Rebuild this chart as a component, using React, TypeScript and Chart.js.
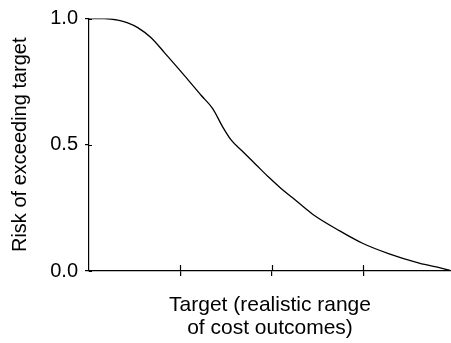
import React, { useEffect, useRef } from "react";
import { Chart, registerables } from "chart.js";

Chart.register(...registerables);

// Target values (arbitrary units along the realistic range) and risk of exceeding them
const targetX = [0, 0.169, 0.315, 0.424, 0.533, 0.68, 0.825, 1.044, 1.226, 1.353, 1.462, 1.554, 1.681, 1.827, 1.973, 2.101, 2.227, 2.446, 2.738, 2.992, 3.284, 3.612, 3.94, 3.96];
const riskY = [1.0, 1.0, 0.994, 0.983, 0.964, 0.924, 0.865, 0.774, 0.696, 0.643, 0.571, 0.519, 0.473, 0.421, 0.369, 0.327, 0.29, 0.225, 0.16, 0.11, 0.068, 0.031, 0.003, 0];

const xTickValues = [1, 2, 3];
const yTickValues = [0, 0.5, 1];
const yTickLabels = ["0.0", "0.5", "1.0"];
const xTitle = ["Target (realistic range", "of cost outcomes)"];
const yTitle = "Risk of exceeding target";
const X_MAX = 3.96;

const FONT = "'Liberation Sans', Arial, Helvetica, sans-serif";

const innerTicks = {
  id: "innerTicks",
  afterDraw(chart: any) {
    const { ctx, chartArea, scales } = chart;
    ctx.save();
    ctx.strokeStyle = "#000";
    ctx.lineWidth = 1.2;
    ctx.beginPath();
    xTickValues.forEach((v) => {
      const px = Math.round(scales.x.getPixelForValue(v)) + 0.5;
      ctx.moveTo(px, chartArea.bottom);
      ctx.lineTo(px, chartArea.bottom - 6);
    });
    yTickValues.forEach((v) => {
      const py = Math.round(scales.y.getPixelForValue(v)) + 0.5;
      ctx.moveTo(chartArea.left, py);
      ctx.lineTo(chartArea.left + 3, py);
    });
    ctx.stroke();
    ctx.restore();
  },
};

export default function App() {
  const ref = useRef<HTMLCanvasElement>(null);

  useEffect(() => {
    if (!ref.current) return;
    const chart = new Chart(ref.current, {
      type: "line",
      data: {
        datasets: [
          {
            data: targetX.map((x, i) => ({ x, y: riskY[i] })),
            borderColor: "#000",
            borderWidth: 1.3,
            pointRadius: 0,
            fill: false,
            cubicInterpolationMode: "monotone",
          },
        ],
      },
      options: {
        animation: false,
        responsive: true,
        maintainAspectRatio: false,
        layout: { padding: { top: 16, right: 0, bottom: 0, left: 0 } },
        plugins: { legend: { display: false }, tooltip: { enabled: false } },
        scales: {
          x: {
            type: "linear",
            min: 0,
            max: X_MAX,
            afterBuildTicks: (scale: any) => {
              scale.ticks = xTickValues.map((v) => ({ value: v }));
            },
            afterFit: (scale: any) => {
              scale.height = 72;
            },
            ticks: { display: false },
            grid: { drawOnChartArea: false, drawTicks: true, tickLength: 5, color: "#000", lineWidth: 1.2 },
            border: { display: true, color: "#000", width: 1.2 },
            title: {
              display: true,
              text: xTitle,
              color: "#000",
              font: { family: FONT, size: 21, lineHeight: 1.11 },
              padding: { top: 0, bottom: 2.7 },
            },
          },
          y: {
            type: "linear",
            min: 0,
            max: 1,
            afterBuildTicks: (scale: any) => {
              scale.ticks = yTickValues.map((v) => ({ value: v }));
            },
            afterFit: (scale: any) => {
              scale.width = 89;
            },
            ticks: {
              color: "#000",
              padding: 7,
              font: { family: FONT, size: 20, lineHeight: 1.15 },
              callback: (v: any) => yTickLabels[yTickValues.indexOf(Number(v))] ?? "",
            },
            grid: { drawOnChartArea: false, drawTicks: true, tickLength: 4, color: "#000", lineWidth: 1.2 },
            border: { display: true, color: "#000", width: 1.2 },
            title: {
              display: true,
              text: yTitle,
              color: "#000",
              font: { family: FONT, size: 20, lineHeight: 1.15 },
              padding: { top: 8.5, bottom: 0 },
            },
          },
        },
      },
      plugins: [innerTicks],
    });
    return () => chart.destroy();
  }, []);

  return (
    <div style={{ position: "absolute", left: 0, top: 0, width: 451, height: 343 }}>
      <canvas ref={ref} />
    </div>
  );
}
